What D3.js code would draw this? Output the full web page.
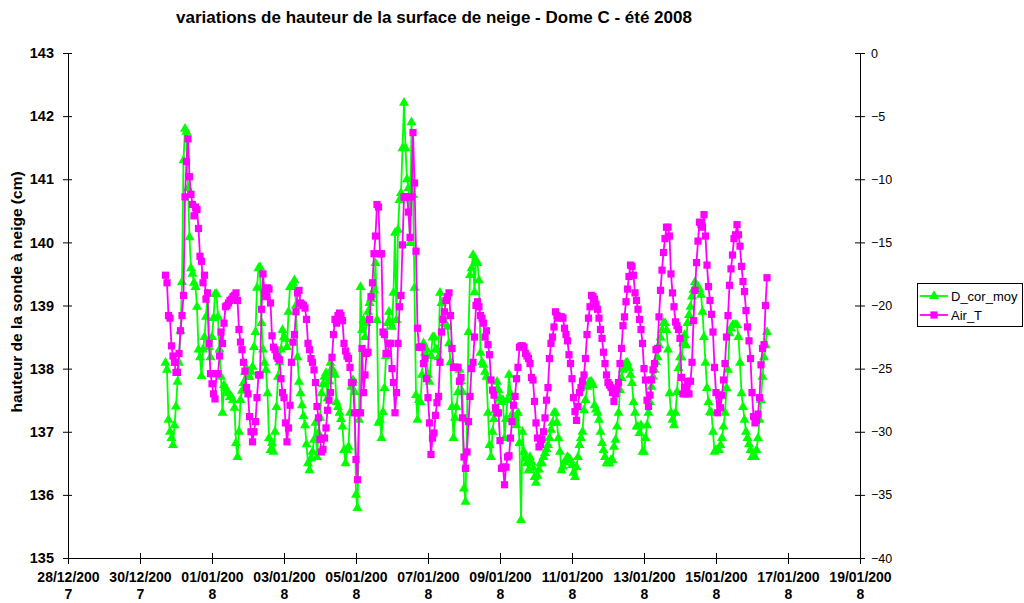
<!DOCTYPE html>
<html><head><meta charset="utf-8">
<script src="https://cdn.jsdelivr.net/npm/d3@7"></script>
<style>body{margin:0;background:#fff} svg{display:block}</style>
</head><body>
<svg id="c" width="1024" height="603"></svg>
<script>
const chartTitle = "variations de hauteur de la surface de neige - Dome C - été 2008";
const leftAxisTitle = "hauteur de la sonde à neige (cm)";
const seriesNames = ["D_cor_moy", "Air_T"];
const firstSample = "2007-12-30T17:00:00"; // hourly samples
const xDomain = ["2007-12-28T00:00:00", "2008-01-19T00:00:00"];
const xTickDates = ["2007-12-28","2007-12-30","2008-01-01","2008-01-03","2008-01-05","2008-01-07","2008-01-09","2008-01-11","2008-01-13","2008-01-15","2008-01-17","2008-01-19"];
const leftTicks = [135,136,137,138,139,140,141,142,143];
const rightTicks = [-40,-35,-30,-25,-20,-15,-10,-5,0];

const dCorMoy = [
138.09,137.98,137.19,137.0,136.9,136.79,137.1,137.4,137.79,138.09,
138.6,139.37,141.3,141.8,141.75,140.86,140.08,139.59,139.5,139.36,
139.29,138.98,138.3,138.18,137.88,138.3,138.5,138.82,139.18,138.34,
138.18,138.5,138.8,139.18,139.18,138.82,138.3,137.87,137.3,137.74,
137.69,137.65,137.61,137.55,137.55,137.5,137.38,136.82,136.6,137.0,
137.5,137.65,137.77,137.95,138.0,137.87,137.87,137.95,138.03,138.34,
138.58,139.28,139.59,139.61,138.72,138.3,138.09,137.98,137.61,136.9,
136.71,136.82,136.68,137.0,137.39,137.87,138.1,138.3,138.61,138.5,
138.47,138.34,138.9,139.29,139.3,139.35,139.4,139.0,138.18,137.79,
137.61,137.42,137.25,137.1,136.8,136.5,136.39,136.58,136.68,136.87,
137.14,136.6,136.98,137.22,137.61,137.75,137.87,137.93,137.53,137.8,
138.09,138.0,137.95,137.9,137.47,137.39,137.3,137.2,137.08,136.71,
136.5,136.71,136.76,137.3,137.71,137.82,137.63,136.0,135.79,137.19,
139.29,138.61,138.77,138.5,138.72,138.9,139.04,139.1,139.17,139.25,
139.67,138.77,137.14,137.19,136.9,137.31,137.69,138.2,138.72,138.9,
138.72,138.66,139.2,140.15,138.77,140.2,140.67,140.78,141.49,142.21,
141.49,141.0,140.86,139.99,141.9,140.75,139.28,137.58,137.19,137.5,
137.47,137.9,138.4,138.25,138.3,137.9,137.79,138.2,138.49,138.5,
138.3,138.3,138.18,139.2,139.04,138.82,138.72,138.7,138.66,138.4,
138.1,137.39,136.9,137.22,137.39,137.63,137.98,137.8,137.63,136.1,
135.89,137.19,138.58,139.48,139.59,139.8,139.21,139.72,139.67,139.4,
138.25,138.1,138.06,137.95,137.87,137.3,136.79,136.6,137.0,137.2,
137.34,137.79,137.66,137.53,137.47,137.5,136.9,137.2,137.5,137.9,
137.61,137.27,137.25,137.22,137.1,137.3,136.82,135.6,137.0,136.68,
136.58,136.5,136.39,136.6,136.52,136.43,136.28,136.19,136.3,136.4,
136.5,136.5,136.6,136.66,136.72,136.79,136.9,137.03,137.14,137.3,
137.3,137.14,136.9,136.68,136.39,136.45,136.52,136.55,136.6,136.58,
136.55,136.47,136.35,136.28,136.44,136.6,136.79,136.9,137.0,137.34,
137.5,137.71,137.77,137.79,137.79,137.74,137.42,137.35,137.3,137.19,
137.0,136.82,136.71,136.6,136.5,136.5,136.5,136.55,136.55,136.76,
136.87,137.08,137.3,137.66,137.85,137.98,138.03,138.09,138.09,138.01,
137.9,137.77,137.47,137.3,137.08,137.08,136.98,137.1,136.68,136.68,
136.9,137.1,137.3,137.47,137.71,137.87,137.98,138.1,138.18,138.37,
138.49,138.61,138.72,138.72,138.61,138.3,137.61,137.3,137.19,137.1,
137.3,137.63,138.01,138.18,138.18,138.4,138.53,138.37,138.72,138.85,
138.98,139.14,139.25,139.37,139.3,139.3,139.25,139.17,138.9,138.5,
138.09,137.69,137.47,137.31,137.3,137.0,136.68,136.71,136.71,136.71,
136.79,136.9,137.08,137.3,137.69,137.98,138.56,138.64,138.69,138.69,
138.69,138.69,138.5,138.09,137.61,137.39,137.19,137.0,136.9,136.8,
136.71,136.6,136.6,136.6,136.71,136.9,137.19,137.5,137.87,138.18,
138.37,138.58];

const airT = [
-17.6,-18.2,-20.8,-21.0,-23.2,-24.0,-24.5,-25.3,-25.3,-23.8,
-22.0,-20.8,-19.2,-11.4,-8.6,-6.8,-9.8,-11.2,-12.0,-12.9,
-12.2,-12.4,-13.9,-16.1,-16.5,-18.2,-17.6,-19.5,-19.0,-23.0,
-25.4,-26.2,-27.0,-27.4,-25.4,-25.4,-24.0,-22.1,-23.0,-21.4,
-20.1,-20.0,-19.8,-19.6,-19.5,-19.3,-19.2,-19.0,-19.6,-21.9,
-22.9,-23.5,-24.5,-25.2,-26.5,-27.0,-28.8,-30.0,-30.8,-30.0,
-29.2,-27.3,-25.5,-25.5,-20.3,-17.5,-19.0,-19.3,-18.6,-18.7,
-19.8,-22.4,-23.3,-23.5,-24.0,-24.2,-24.3,-25.8,-26.9,-27.3,
-29.3,-30.8,-29.7,-27.9,-24.5,-22.9,-22.3,-20.5,-19.0,-18.8,
-19.8,-19.9,-20.0,-20.2,-21.1,-23.0,-23.5,-24.2,-24.5,-25.1,
-26.1,-28.0,-28.9,-30.6,-31.6,-31.4,-30.5,-29.7,-28.3,-27.5,
-26.9,-24.1,-22.3,-21.1,-21.4,-20.8,-20.6,-20.8,-21.2,-23.0,
-23.6,-24.0,-24.2,-24.9,-26.1,-26.1,-28.5,-32.2,-33.8,-28.5,
-28.5,-23.4,-26.9,-25.5,-23.8,-23.7,-21.1,-19.3,-18.2,-15.9,
-14.5,-12.0,-12.2,-15.9,-15.9,-22.1,-22.3,-23.8,-23.8,-23.0,
-23.0,-25.0,-26.1,-28.5,-26.9,-23.0,-20.1,-19.2,-15.2,-11.4,
-11.4,-11.4,-12.6,-14.6,-11.4,-6.3,-10.3,-15.7,-21.8,-23.3,
-23.3,-23.3,-24.6,-24.2,-25.8,-27.3,-29.3,-31.8,-30.5,-30.1,
-28.7,-27.7,-27.2,-24.5,-22.1,-21.1,-20.5,-19.6,-19.3,-19.0,
-20.8,-23.4,-24.9,-24.9,-24.9,-24.9,-26.0,-25.7,-28.9,-32.0,
-32.9,-31.6,-29.2,-27.2,-25.0,-24.5,-22.5,-20.0,-19.7,-20.1,
-20.8,-21.0,-21.4,-22.5,-22.0,-23.1,-23.9,-25.9,-26.7,-27.1,
-28.1,-28.5,-28.5,-30.7,-32.9,-32.8,-34.2,-32.8,-32.0,-31.9,
-30.5,-29.2,-27.9,-27.2,-25.8,-24.9,-23.3,-23.2,-23.2,-23.3,
-23.8,-24.0,-24.2,-24.6,-25.7,-25.9,-27.6,-29.3,-30.5,-31.2,
-31.0,-30.6,-30.0,-28.9,-27.5,-26.5,-24.2,-23.0,-22.5,-21.7,
-20.5,-20.8,-21.0,-20.9,-20.9,-21.0,-21.8,-22.3,-22.8,-23.9,
-24.6,-25.8,-27.3,-28.4,-29.1,-28.0,-26.9,-26.5,-26.0,-25.5,
-24.2,-22.3,-21.0,-20.1,-19.2,-19.3,-19.5,-19.9,-20.3,-21.0,
-21.9,-22.6,-23.7,-24.6,-25.5,-26.1,-26.3,-26.5,-26.9,-27.6,
-27.0,-26.6,-26.1,-24.6,-23.4,-21.6,-20.9,-19.7,-18.7,-17.7,
-16.8,-16.9,-17.6,-19.0,-19.6,-20.3,-21.1,-21.9,-23.0,-25.0,
-25.9,-27.5,-28.0,-27.1,-25.9,-25.1,-24.6,-23.5,-23.4,-20.9,
-18.8,-17.2,-15.8,-14.7,-13.8,-13.8,-14.5,-17.5,-19.0,-20.1,
-21.3,-21.6,-21.9,-22.6,-25.7,-27.0,-26.5,-27.0,-26.0,-27.0,
-26.0,-24.5,-21.2,-18.8,-16.6,-14.9,-13.4,-13.6,-13.8,-12.8,
-14.5,-16.8,-18.5,-19.6,-20.7,-22.1,-24.9,-26.9,-28.5,-27.1,
-28.1,-27.1,-25.9,-24.6,-22.5,-20.8,-18.4,-17.1,-16.0,-14.7,
-14.4,-13.6,-14.4,-15.3,-16.9,-18.1,-18.9,-20.4,-21.7,-22.8,
-24.2,-26.9,-28.8,-29.3,-29.1,-28.6,-27.3,-24.7,-23.4,-23.1,
-20.0,-17.8];

const svg = d3.select("#c");
const M = {left: 68, right: 860, top: 53, bottom: 558};
const FONT = "'Liberation Sans', Arial, sans-serif";

const t0 = new Date(firstSample);
const times = dCorMoy.map((_, i) => d3.timeHour.offset(t0, i));

const x = d3.scaleTime().domain(xDomain.map(s => new Date(s))).range([M.left, M.right]);
const yL = d3.scaleLinear().domain([135, 143]).range([M.bottom, M.top]);
const yR = d3.scaleLinear().domain([-40, 0]).range([M.bottom, M.top]);

// title
svg.append("text").attr("x", 434).attr("y", 23).attr("text-anchor", "middle")
  .attr("font-family", FONT).attr("font-weight", "bold").attr("font-size", 17)
  .text(chartTitle);

// left axis
const gL = svg.append("g").attr("transform", `translate(${M.left},0)`)
  .call(d3.axisLeft(yL).tickValues(leftTicks).tickSizeOuter(0).tickSizeInner(5).tickPadding(9).tickFormat(d3.format("d")));
gL.selectAll(".tick line").attr("x2", -5).attr("x1", 4);
gL.selectAll("text").attr("font-family", FONT).attr("font-weight", "bold").attr("font-size", 14.5).attr("fill", "#000");

// right axis
const gR = svg.append("g").attr("transform", `translate(${M.right},0)`)
  .call(d3.axisRight(yR).tickValues(rightTicks).tickSizeOuter(0).tickSizeInner(5).tickPadding(6).tickFormat(d3.format("d")));
gR.selectAll(".tick line").attr("x1", -5).attr("x2", 5);
gR.selectAll("text").attr("font-family", FONT).attr("font-size", 12.5).attr("fill", "#000");

// bottom axis
const fmt = d3.timeFormat("%d/%m/%Y");
const gB = svg.append("g").attr("transform", `translate(0,${M.bottom})`)
  .call(d3.axisBottom(x).tickValues(xTickDates.map(s => new Date(s + "T00:00:00"))).tickSizeOuter(0).tickSizeInner(6).tickFormat(""));
gB.selectAll(".tick line").attr("y1", -5).attr("y2", 6);
gB.selectAll(".tick").each(function(d) {
  const full = fmt(d);
  const t = d3.select(this).append("text").attr("fill", "#000").attr("text-anchor", "middle")
    .attr("font-family", FONT).attr("font-weight", "bold").attr("font-size", 14);
  t.append("tspan").attr("x", 0).attr("y", 24).text(full.slice(0, -1));
  t.append("tspan").attr("x", 0).attr("y", 41).text(full.slice(-1));
});
svg.selectAll(".domain").attr("stroke", "#000");
svg.selectAll(".tick line").attr("stroke", "#000");

// left axis title
svg.append("text").attr("transform", "translate(22,292) rotate(-90)").attr("text-anchor", "middle")
  .attr("font-family", FONT).attr("font-weight", "bold").attr("font-size", 15.5)
  .text(leftAxisTitle);

// series
const green = "#00ff00", magenta = "#ff00ff";
const lineG = d3.line().x((d, i) => x(times[i])).y(d => yL(d));
const lineM = d3.line().x((d, i) => x(times[i])).y(d => yR(d));
const tri = d3.symbol().type(d3.symbolTriangle).size(44);
const sq = d3.symbol().type(d3.symbolSquare).size(52);

svg.append("path").datum(dCorMoy).attr("d", lineG).attr("fill", "none").attr("stroke", green).attr("stroke-width", 1.8);
svg.append("g").selectAll("path").data(dCorMoy).join("path")
  .attr("d", tri).attr("transform", (d, i) => `translate(${x(times[i])},${yL(d)})`).attr("fill", green);

svg.append("path").datum(airT).attr("d", lineM).attr("fill", "none").attr("stroke", magenta).attr("stroke-width", 1.8);
svg.append("g").selectAll("path").data(airT).join("path")
  .attr("d", sq).attr("transform", (d, i) => `translate(${x(times[i])},${yR(d)})`).attr("fill", magenta);

// legend
const lg = svg.append("g");
lg.append("rect").attr("x", 917.5).attr("y", 283.5).attr("width", 105).attr("height", 43)
  .attr("fill", "#fff").attr("stroke", "#000").attr("stroke-width", 1);
const legendItems = [{name: seriesNames[0], color: green, sym: tri, y: 296},
                     {name: seriesNames[1], color: magenta, sym: sq, y: 315}];
legendItems.forEach(it => {
  lg.append("line").attr("x1", 920).attr("x2", 948).attr("y1", it.y).attr("y2", it.y).attr("stroke", it.color).attr("stroke-width", 1.8);
  lg.append("path").attr("d", it.sym).attr("transform", `translate(934,${it.y})`).attr("fill", it.color);
  lg.append("text").attr("x", 951).attr("y", it.y + 4.5).attr("font-family", FONT).attr("font-size", 13).text(it.name);
});
</script>
</body></html>
